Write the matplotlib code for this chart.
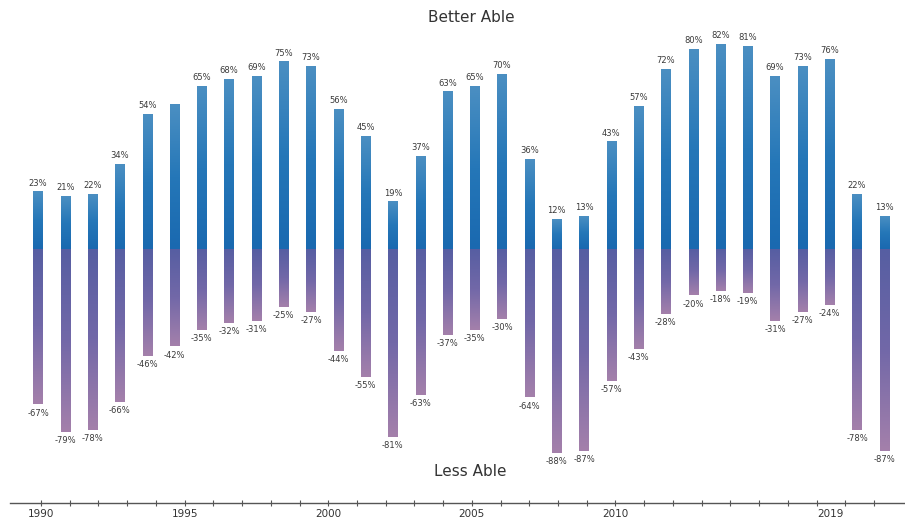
import numpy as np
import matplotlib
matplotlib.use("Agg")
import matplotlib.pyplot as plt
from matplotlib.colors import LinearSegmentedColormap

# Datos por año (1990-2021)
years = list(range(1990, 2022))
better = [23, 21, 22, 34, 54, 58, 65, 68, 69, 75, 73, 56, 45, 19, 37, 63,
          65, 70, 36, 12, 13, 43, 57, 72, 80, 82, 81, 69, 73, 76, 22, 13]
less = [-67, -79, -78, -66, -46, -42, -35, -32, -31, -25, -27, -44, -55, -81, -63, -37,
        -35, -30, -64, -88, -87, -57, -43, -28, -20, -18, -19, -31, -27, -24, -78, -87]
# 1995 no lleva etiqueta en la parte superior
better_labels = [f"{v}%" if y != 1995 else "" for y, v in zip(years, better)]
less_labels = [f"{v}%" for v in less]

# Eje de años inferior
axis_years = list(range(1990, 2020))
year_labels = ["1990", "1995", "2000", "2005", "2010", "2019"]
year_label_pos = [1990, 1995, 2000, 2005, 2010, 2017.5]

W, H = 905, 518
fig = plt.figure(figsize=(W / 100, H / 100), dpi=100)
fig.patch.set_facecolor("white")

zero_px = 249
ax_up = fig.add_axes([0, 1 - zero_px / H, 1, zero_px / H])
ax_dn = fig.add_axes([0, 1 - 469 / H, 1, (469 - zero_px) / H])

cmap_up = LinearSegmentedColormap.from_list("up", ["#1a69b0", "#2577b8", "#4b8fc2"])
cmap_dn = LinearSegmentedColormap.from_list("dn", ["#565ea2", "#7268a8", "#a480ab"])
grad = np.linspace(0, 1, 128).reshape(-1, 1)

x = np.arange(len(years))
bw = 0.34
for i, (b, l) in enumerate(zip(better, less)):
    ax_up.imshow(grad, cmap=cmap_up, origin="lower", aspect="auto",
                 extent=[i - bw / 2, i + bw / 2, 0, b], interpolation="bicubic")
    ax_dn.imshow(grad[::-1], cmap=cmap_dn, origin="lower", aspect="auto",
                 extent=[i - bw / 2, i + bw / 2, l, 0], interpolation="bicubic")
    ax_up.text(i, b + 1.6, better_labels[i], ha="center", va="bottom",
               fontsize=6, color="#3a3a3a")
    ax_dn.text(i, l - 1.8, less_labels[i], ha="center", va="top",
               fontsize=6, color="#3a3a3a")

xl = (-38 / 27.3, (W - 38) / 27.3)
ax_up.set_xlim(*xl)
ax_dn.set_xlim(*xl)
ax_up.set_ylim(0, zero_px / 2.5)
ax_dn.set_ylim(-(469 - zero_px) / 2.32, 0)
for ax in (ax_up, ax_dn):
    ax.axis("off")

fig.text(471 / W, 1 - 18 / H, "Better Able", ha="center", va="center",
         fontsize=11, color="#333333")
fig.text(470 / W, 1 - 472 / H, "Less Able", ha="center", va="center",
         fontsize=11, color="#333333")

# Línea de tiempo inferior
line_px = 503
ax_t = fig.add_axes([10 / W, 1 - line_px / H, (W - 10) / W, 0.0001])
px_per_year = (874 - 41) / 29
ax_t.set_xlim(1990 - 31 / px_per_year, 2019 + (W - 874) / px_per_year)
for s in ("top", "left", "right"):
    ax_t.spines[s].set_visible(False)
ax_t.spines["bottom"].set_color("#555555")
ax_t.spines["bottom"].set_linewidth(1.0)
ax_t.set_yticks([])
ax_t.xaxis.remove_overlapping_locs = False
# marcas pequeñas en cada año
ax_t.set_xticks(axis_years)
ax_t.set_xticklabels([])
ax_t.tick_params(axis="x", which="major", direction="inout", length=4,
                 color="#555555", width=0.8)
# etiquetas de años
ax_t.set_xticks(year_label_pos, minor=True)
ax_t.set_xticklabels(year_labels, minor=True, fontsize=7.5, color="#333333")
ax_t.tick_params(axis="x", which="minor", length=0, pad=4)

fig.savefig("out.png", dpi=100, facecolor="white")
